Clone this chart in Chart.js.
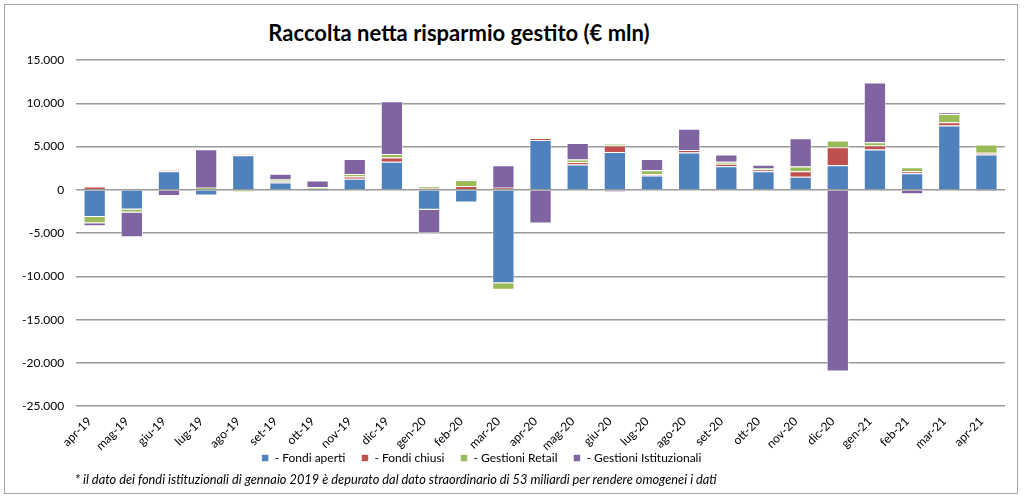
<!DOCTYPE html>
<html>
<head>
<meta charset="utf-8">
<script src="https://cdn.jsdelivr.net/npm/chart.js@4"></script>
<style>
  html, body { margin: 0; padding: 0; background: #fff; }
  #wrap { position: relative; width: 1024px; height: 498px; }
  #frame { position: absolute; left: 4px; top: 4px; width: 1014px; height: 490px; border: 1px solid #a6a6a6; box-sizing: border-box; }
  #title { position: absolute; left: 0; width: 918px; top: 19px; text-align: center; font: bold 22px Lato, "Open Sans", sans-serif; color: #000; }
  #note { position: absolute; left: 75px; top: 471px; font: italic 12.8px Lato, "Open Sans", sans-serif; color: #000; }
  canvas { position: absolute; left: 0; top: 0; }
</style>
</head>
<body>
<div id="wrap">
  <div id="frame"></div>
  <div id="title">Raccolta netta risparmio gestito (€ mln)</div>
  <canvas id="chart" width="1024" height="498"></canvas>
  <div id="note">* il dato dei fondi istituzionali di gennaio 2019 è depurato dal dato straordinario di 53 miliardi per rendere omogenei i dati</div>
</div>
<script>
const months = ["apr-19","mag-19","giu-19","lug-19","ago-19","set-19","ott-19","nov-19","dic-19","gen-20",
  "feb-20","mar-20","apr-20","mag-20","giu-20","lug-20","ago-20","set-20","ott-20","nov-20",
  "dic-20","gen-21","feb-21","mar-21","apr-21"];

const fondiAperti = [-3150,-2270,2150,-650,4000,850,-200,1270,3230,-2300,
  -1450,-10800,5770,2920,4380,1650,4300,2730,2150,1500,
  2850,4650,1920,7420,4080];
const fondiChiusi = [380,0,100,100,80,120,120,270,500,150,
  450,250,230,300,730,150,300,270,230,650,
  2080,460,230,380,190];
const gestioniRetail = [-700,-350,0,150,-250,230,200,300,420,250,
  700,-750,50,270,230,460,-150,230,150,540,
  770,380,460,960,960];
const gestioniIstituzionali = [-350,-2870,-700,4450,0,650,770,1730,6080,-2720,
  50,2600,-3900,1920,-250,1300,2460,850,380,3270,
  -21000,6920,-500,150,-200];

const yTicks = { min: -25000, max: 15000, step: 5000 };

const fmt = v => (v < 0 ? "-" : "") + Math.abs(v).toString().replace(/\B(?=(\d{3})+(?!\d))/g, ".");

const ds = (label, data, color) => ({
  label: label,
  data: data,
  backgroundColor: color,
  borderColor: "rgba(255,255,255,0.6)",
  borderWidth: 1,
  barPercentage: 0.6,
  categoryPercentage: 1.0
});

// legend sits a bit left of the canvas centre; x labels overlap the legend band
const tweakLayout = {
  id: "tweakLayout",
  afterLayout(chart) {
    if (chart.legend) {
      chart.legend.left -= 26;
      chart.legend.right -= 26;
    }
    chart.scales.x.bottom += 30; // so the label clip area isn't cut short
  }
};

new Chart(document.getElementById("chart").getContext("2d"), {
  type: "bar",
  data: {
    labels: months,
    datasets: [
      ds("- Fondi aperti", fondiAperti, "#4F81BD"),
      ds("- Fondi chiusi", fondiChiusi, "#C0504D"),
      ds("- Gestioni Retail", gestioniRetail, "#9BBB59"),
      ds("- Gestioni Istituzionali", gestioniIstituzionali, "#8064A2")
    ]
  },
  plugins: [tweakLayout],
  options: {
    responsive: false,
    animation: false,
    layout: { padding: { left: 10, right: 19, top: 60, bottom: 24 } },
    plugins: {
      legend: {
        position: "bottom",
        labels: {
          boxWidth: 7, boxHeight: 7, padding: 16,
          color: "#000",
          font: { family: "Lato", size: 12 }
        }
      },
      tooltip: { enabled: false }
    },
    scales: {
      x: {
        stacked: true,
        grid: { display: false, drawTicks: false },
        border: { display: false },
        afterFit: s => { s.height -= 25; },
        ticks: {
          maxRotation: 45, minRotation: 45, autoSkip: false,
          color: "#000", padding: 8, labelOffset: -5,
          font: { family: "Lato", size: 12 }
        }
      },
      y: {
        stacked: true,
        min: yTicks.min, max: yTicks.max,
        grid: { color: "#9a9a9a", lineWidth: 1.5, drawTicks: false },
        border: { display: false },
        ticks: {
          stepSize: yTicks.step, padding: 12,
          color: "#000",
          font: { family: "Lato", size: 12 },
          callback: v => fmt(v)
        }
      }
    }
  }
});
</script>
</body>
</html>
